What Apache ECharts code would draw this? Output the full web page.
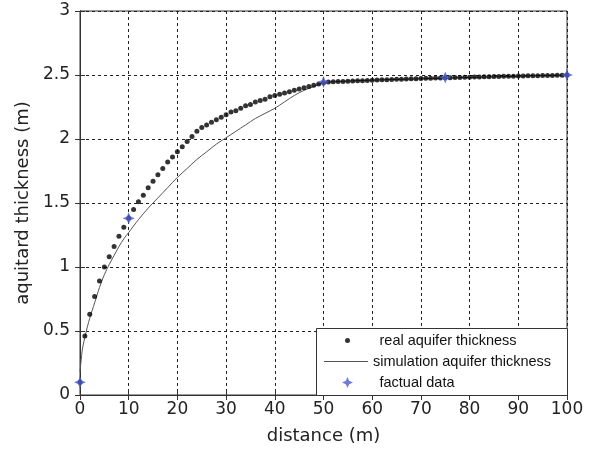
<!DOCTYPE html>
<html>
<head>
<meta charset="utf-8">
<script src="https://cdn.jsdelivr.net/npm/echarts@6/dist/echarts.min.js"></script>
<style>html,body{margin:0;padding:0;background:#fff;}#c{width:589px;height:456px;}</style>
</head>
<body>
<div id="c"></div>
<script>
var xTicks = [0, 10, 20, 30, 40, 50, 60, 70, 80, 90, 100];
var yTicks = [0, 0.5, 1, 1.5, 2, 2.5, 3];

var realX = [0,1,2,3,4,5,6,7,8,9,10,11,12,13,14,15,16,17,18,19,20,21,22,23,24,25,26,27,28,29,30,31,32,33,34,35,36,37,38,39,40,41,42,43,44,45,46,47,48,49,50,51,52,53,54,55,56,57,58,59,60,61,62,63,64,65,66,67,68,69,70,71,72,73,74,75,76,77,78,79,80,81,82,83,84,85,86,87,88,89,90,91,92,93,94,95,96,97,98,99,100];
var realY = [0.10,0.46,0.63,0.77,0.89,1.00,1.08,1.16,1.24,1.31,1.38,1.45,1.51,1.56,1.62,1.67,1.72,1.77,1.82,1.86,1.90,1.94,1.98,2.02,2.06,2.09,2.11,2.13,2.15,2.17,2.19,2.21,2.22,2.24,2.26,2.27,2.29,2.30,2.31,2.33,2.34,2.35,2.36,2.37,2.38,2.39,2.40,2.41,2.42,2.43,2.44,2.445,2.447,2.449,2.450,2.452,2.453,2.455,2.456,2.458,2.459,2.461,2.462,2.463,2.465,2.466,2.467,2.469,2.470,2.471,2.472,2.474,2.475,2.476,2.477,2.478,2.479,2.480,2.481,2.482,2.483,2.484,2.485,2.486,2.487,2.488,2.489,2.490,2.490,2.491,2.492,2.493,2.494,2.494,2.495,2.496,2.497,2.497,2.498,2.499,2.500];

var simX = [0,0.5,1,1.5,2,3,4,5,6,7,8,9,10,12,14,16,18,20,22,24,26,28,30,32,34,36,38,40,42,44,46,48,50,60,70,80,90,100];
var simY = [0.18,0.36,0.45,0.53,0.60,0.72,0.84,0.94,1.02,1.09,1.16,1.22,1.27,1.37,1.46,1.54,1.62,1.70,1.77,1.84,1.90,1.96,2.01,2.06,2.11,2.16,2.20,2.24,2.29,2.34,2.38,2.41,2.44,2.46,2.47,2.48,2.49,2.50];

var factX = [0, 10, 50, 75, 100];
var factY = [0.10, 1.38, 2.445, 2.48, 2.50];

var names = ['real aquifer thickness', 'simulation aquifer thickness', 'factual data'];

function pairs(xs, ys){ return xs.map(function(x,i){ return [x, ys[i]]; }); }

var starPath = 'path://M0,-10 L3,-3 L10,0 L3,3 L0,10 L-3,3 L-10,0 L-3,-3 Z';
var FONT = 'DejaVu Sans';
var LFONT = 'Liberation Sans';

var chart = echarts.init(document.getElementById('c'), null, {renderer: 'canvas'});
var grid = {left: 80, right: 22, top: 11, bottom: 61, show: true, borderColor: '#333', borderWidth: 1, backgroundColor: '#fff'};
var split = {show: true, lineStyle: {type: [3, 3], color: '#222', width: 1}};
chart.setOption({
  animation: false,
  grid: grid,
  xAxis: [{
    type: 'value', min: xTicks[0], max: xTicks[xTicks.length-1], interval: 10,
    name: 'distance (m)', nameLocation: 'middle', nameGap: 32,
    nameTextStyle: {fontFamily: FONT, fontSize: 18, color: '#222'},
    axisLine: {show: true, lineStyle: {color: '#333'}},
    axisTick: {show: true, inside: true, length: 5, lineStyle: {color: '#333'}},
    axisLabel: {fontFamily: FONT, fontSize: 17, color: '#222', margin: 6},
    splitLine: split
  }, {
    type: 'value', position: 'top', min: 0, max: 100, interval: 10,
    axisLine: {show: true, lineStyle: {color: '#333'}},
    axisTick: {show: true, inside: true, length: 5, lineStyle: {color: '#333'}},
    axisLabel: {show: false}, splitLine: {show: false}
  }],
  yAxis: [{
    type: 'value', min: yTicks[0], max: yTicks[yTicks.length-1], interval: 0.5,
    name: 'aquitard thickness (m)', nameLocation: 'middle', nameGap: 48,
    nameTextStyle: {fontFamily: FONT, fontSize: 18, color: '#222'},
    axisLine: {show: true, lineStyle: {color: '#333'}},
    axisTick: {show: true, inside: true, length: 5, lineStyle: {color: '#333'}},
    axisLabel: {fontFamily: FONT, fontSize: 17, color: '#222', margin: 10},
    splitLine: split
  }, {
    type: 'value', position: 'right', min: 0, max: 3, interval: 0.5,
    axisLine: {show: true, lineStyle: {color: '#333'}},
    axisTick: {show: true, inside: true, length: 5, lineStyle: {color: '#333'}},
    axisLabel: {show: false}, splitLine: {show: false}
  }],
  legend: [
    {data: [{name: names[0], icon: 'circle'}], left: 345, top: 333, orient: 'vertical', padding: 0, itemWidth: 54, itemHeight: 5, itemGap: 0, textStyle: {fontFamily: LFONT, fontSize: 14.5, color: '#111'}, z: 20, selectedMode: false},
    {data: [{name: names[1], icon: 'rect'}], left: 324, top: 354, orient: 'vertical', padding: 0, itemWidth: 44, itemHeight: 1, itemGap: 0, itemStyle: {color: '#555'}, textStyle: {fontFamily: LFONT, fontSize: 14.5, color: '#111'}, z: 20, selectedMode: false},
    {data: [{name: names[2], icon: starPath}], left: 342, top: 375, orient: 'vertical', padding: 0, itemWidth: 54, itemHeight: 11, itemGap: 0, textStyle: {fontFamily: LFONT, fontSize: 14.5, color: '#111'}, z: 20, selectedMode: false}
  ],
  graphic: [{
    type: 'rect', left: 316, top: 328, shape: {width: 251, height: 67},
    style: {fill: '#fff', stroke: '#333', lineWidth: 1}, z: 10
  }],
  series: [
    {name: names[1], type: 'line', data: pairs(simX, simY), showSymbol: false, symbol: 'none', smooth: 0.3,
     lineStyle: {color: '#555', width: 1}, itemStyle: {color: '#555'}, z: 2},
    {name: names[0], type: 'scatter', data: pairs(realX, realY), symbol: 'circle', symbolSize: 5,
     itemStyle: {color: '#000'}, z: 3},
    {name: names[2], type: 'scatter', data: pairs(factX, factY), symbol: starPath, symbolSize: 12,
     itemStyle: {color: '#4a5ad0'}, z: 4}
  ]
});
</script>
</body>
</html>
